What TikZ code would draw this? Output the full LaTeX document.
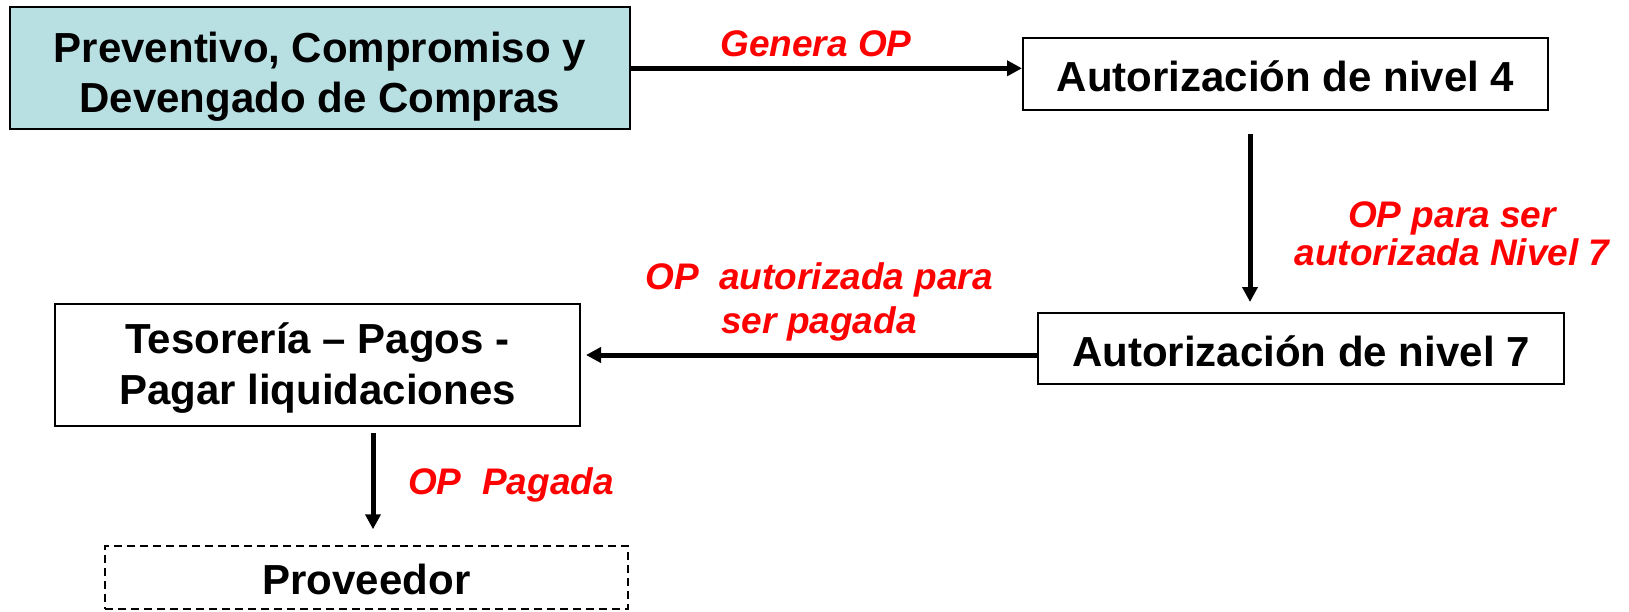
\documentclass[tikz,border=0pt]{standalone}
\usepackage{fontspec}
\setmainfont{Liberation Sans}
\usetikzlibrary{arrows.meta}
\definecolor{boxblue}{HTML}{B8E0E3}
\definecolor{lblred}{HTML}{FF0000}
\tikzset{
  box/.style={draw=black, line width=2pt, rectangle, inner sep=0pt, align=center,
    text depth=0pt, font=\fontsize{42}{50}\selectfont\bfseries},
  dbox/.style={box, line width=1.5pt, dash pattern=on 8pt off 5pt},
  arr/.style={line width=5pt, -{Triangle[length=15pt,width=15pt]}},
  lbl/.style={text=lblred, align=center, inner sep=0pt, text depth=0pt,
    font=\fontsize{37}{44}\selectfont\bfseries\itshape}
}
\begin{document}
\begin{tikzpicture}[x=1pt,y=-1pt]
\useasboundingbox (0,0) rectangle (1629,611);
\node[box, fill=boxblue, minimum width=620, minimum height=122, text height=88.4pt] (b1) at (320,68.3)
  {Preventivo, Compromiso y\\Devengado de Compras};
\node[box, minimum width=525, minimum height=72, text height=35pt] (b2) at (1285.5,74)
  {Autorización de nivel 4};
\node[box, minimum width=526, minimum height=71, text height=35pt] (b3) at (1301,348.5)
  {Autorización de nivel 7};
\node[box, minimum width=525, minimum height=122, text height=78.6pt,
  font=\fontsize{42}{51}\selectfont\bfseries] (b4) at (317.5,365)
  {Tesorería – Pagos -\\Pagar liquidaciones};
\node[dbox, minimum width=523, minimum height=63, text height=34pt] (b5) at (366.5,577.5)
  {Proveedor};
\coordinate (x2) at (1250,0);
\coordinate (y3) at (0,355);
\coordinate (x4) at (373,0);
\draw[arr] (b1.east) -- (b1.east -| b2.west);
\draw[arr, shorten <=23pt, shorten >=10pt] (b2.south -| x2) -- (b3.north -| x2);
\draw[arr, shorten >=5pt] (b3.west |- y3) -- (b4.east |- y3);
\draw[arr, shorten <=6pt, shorten >=16pt] (b4.south -| x4) -- (b5.north -| x4);
\node[lbl, text height=26.5pt] (l1) at (816,43.6) {Genera OP};
\node[lbl, text height=64.8pt, font=\fontsize{37}{38.3}\selectfont\bfseries\itshape] (l2) at (1452,233.3)
  {OP para ser\\autorizada Nivel 7};
\node[lbl, text height=70.9pt, font=\fontsize{37}{44.4}\selectfont\bfseries\itshape] (l3) at (819,298)
  {OP\ \ autorizada para\\ser pagada};
\node[lbl, text height=26.5pt] (l4) at (511,481.7) {OP\ \ Pagada};
\end{tikzpicture}
\end{document}
